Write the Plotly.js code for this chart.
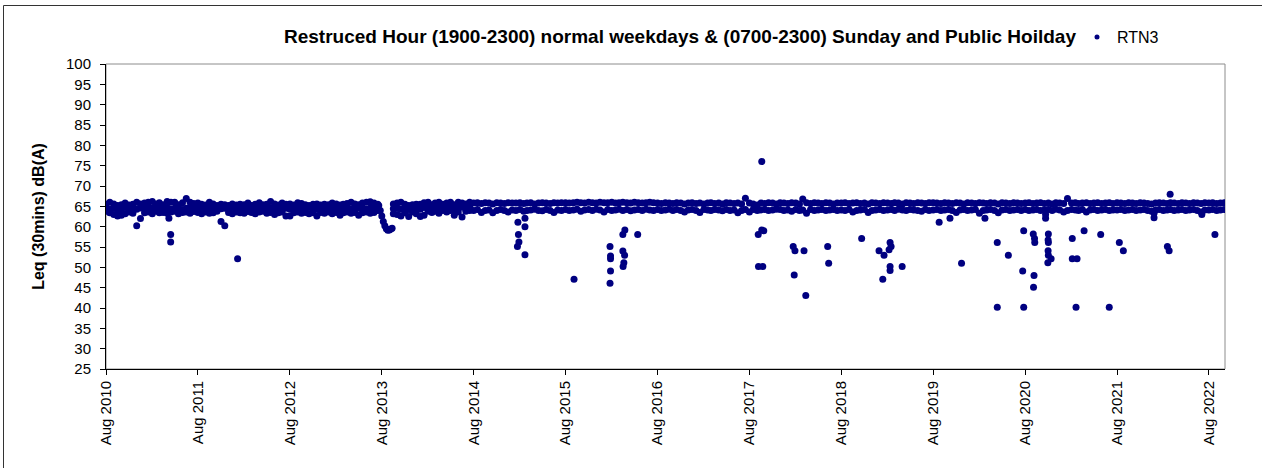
<!DOCTYPE html>
<html>
<head>
<meta charset="utf-8">
<script src="https://cdn.plot.ly/plotly-3.0.1.min.js"></script>
<style>
  html, body { margin: 0; padding: 0; background: #fff; }
  #chart { width: 1262px; height: 468px; }
</style>
</head>
<body>
<div id="chart"></div>
<script>
// ---------------- DATA ----------------
const seriesName = 'RTN3';
const chartTitle = 'Restruced Hour (1900-2300) normal weekdays & (0700-2300) Sunday and Public Hoilday';
const yTitle = 'Leq (30mins) dB(A)';

// Main band of readings, sampled on the 1st and 16th of each month from Aug 2010
// (upper, middle and lower edge of the dense cloud of points)
const bandStart = '2010-08';
const bandHi = [
  // Aug 2010 - Jul 2011
  65.5, 66, 65.6, 65.2, 65.4, 65.8, 65.3, 65.5, 66, 65.6, 65.8, 66, 66.2, 65.6, 65.9, 65.4, 66.2, 66, 66, 65.4, 65.9, 66.9, 66, 65.7,
  // Aug 2011 - Jul 2012
  65.8, 65.5, 65.3, 66, 65.6, 65.2, 65.5, 65.4, 65.2, 65.6, 65.3, 65.5, 65.4, 65.8, 65.2, 65.5, 65.9, 65.4, 65.5, 66.2, 65.6, 65.3, 65.8, 65.5,
  // Aug 2012 - Jul 2013
  65.6, 65.3, 65.9, 65.7, 65.4, 65.2, 65.5, 65.6, 65.3, 65.5, 65.4, 65.8, 65.6, 65.3, 65.5, 65.7, 66, 65.6, 65.4, 65.8, 66, 66.1, 65.8, 65.5,
  // Aug 2013 - Jul 2014
  null, null, null, 65.6, 65.8, 66, 65.5, 65.2, 65.4, 65.5, 65.5, 65.9, 66, 65.4, 65.8, 66, 65.5, 65.8, 66, 65.4, 66, 65.8, 65.6, 66,
  // Aug 2014 - Jul 2015
  65.8, 65.9, 65.7, 65.9, 65.8, 65.6, 65.9, 65.8, 65.7, 65.9, 65.8, 65.8, 65.9, 65.7, 65.8, 65.9, 65.6, 65.8, 65.9, 65.8, 65.7, 65.9, 65.8, 65.9,
  // Aug 2015 - Jul 2016
  65.9, 65.8, 65.9, 66, 65.9, 65.8, 66, 65.9, 65.8, 66, 65.9, 65.9, 66, 65.8, 65.9, 66, 65.9, 65.8, 66, 65.9, 65.8, 65.9, 66, 65.9,
  // Aug 2016 - Jul 2017
  65.8, 65.7, 65.9, 65.8, 65.7, 65.9, 65.8, 65.6, 65.8, 65.9, 65.7, 65.8, 65.6, 65.8, 65.9, 65.7, 65.8, 65.6, 65.9, 65.8, 65.7, 65.8, 65.6, 67,
  // Aug 2017 - Jul 2018
  65.8, 65.6, 65.3, 65.8, 65.7, 65.9, 65.8, 65.6, 65.9, 65.8, 65.7, 65.9, 65.8, 65.6, 66.8, 65.9, 65.7, 65.9, 65.8, 65.7, 65.9, 65.8, 65.6, 65.8,
  // Aug 2018 - Jul 2019
  65.8, 65.9, 65.7, 65.8, 65.9, 65.7, 65.8, 65.6, 65.9, 65.8, 65.7, 65.9, 65.8, 65.7, 65.9, 65.8, 65.6, 65.9, 65.8, 65.7, 65.9, 65.8, 65.7, 65.9,
  // Aug 2019 - Jul 2020
  65.9, 65.8, 65.7, 65.9, 65.8, 65.7, 65.9, 65.8, 65.6, 65.9, 65.8, 65.7, 65.9, 65.8, 65.7, 65.9, 65.8, 65.6, 65.9, 65.8, 65.7, 65.9, 65.8, 65.7,
  // Aug 2020 - Jul 2021
  65.8, 65.9, 65.7, 65.8, 65.9, 65.7, 65.8, 65.6, 65.9, 65.8, 65.7, 66.9, 65.8, 65.9, 65.7, 65.8, 65.9, 65.7, 65.8, 65.9, 65.7, 65.8, 65.9, 65.7,
  // Aug 2021 - Jul 2022
  65.9, 65.8, 65.7, 65.9, 65.8, 65.7, 65.9, 65.8, 65.7, 65.6, 65.8, 65.9, 65.8, 65.7, 65.9, 65.8, 65.7, 65.9, 65.8, 65.7, 65.9, 65.8, 65.7, 65.9,
  // Aug 2022 - Oct 2022
  65.8, 65.9, 65.7, 65.8, 65.9
];
const bandMid = [
  // Aug 2010 - Jul 2011
  64.6, 64.3, 64.5, 64.1, 64.4, 64.7, 64.2, 64.5, 64.3, 64.6, 64.4, 64.8, 64.5, 64.2, 64.6, 64.4, 64.7, 64.3, 64.5, 64.6, 64.2, 64.5, 64.7, 64.4,
  // Aug 2011 - Jul 2012
  64.4, 64.7, 64.3, 64.5, 64.2, 64.6, 64.4, 64.5, 64.3, 64.7, 64.4, 64.2, 64.6, 64.5, 64.3, 64.7, 64.4, 64.2, 64.6, 64.5, 64.3, 64.4, 64.7, 64.5,
  // Aug 2012 - Jul 2013
  64.3, 64.6, 64.4, 64.5, 64.2, 64.7, 64.4, 64.3, 64.6, 64.5, 64.2, 64.4, 64.7, 64.3, 64.5, 64.6, 64.4, 64.2, 64.5, 64.7, 64.3, 64.6, 64.4, 64.5,
  // Aug 2013 - Jul 2014
  null, null, null, 64.4, 64.6, 64.3, 64.5, 64.2, 64.6, 64.4, 64.3, 64.7, 64.5, 64.4, 64.8, 64.6, 64.5, 64.8, 64.7, 64.4, 64.9, 64.8, 64.6, 64.9
];
const bandLo = [
  // Aug 2010 - Jul 2011
  63.8, 63.4, 63, 62.6, 62.8, 63.2, 63.6, 63.3, 60.2, 62, 63.4, 63.6, 63.2, 63.8, 63.4, 63.5, 63.3, 63.6, 63.8, 63.2, 63.5, 63.6, 63.3, 63.7,
  // Aug 2011 - Jul 2012
  63.5, 63.2, 63.6, 63.3, 63.4, 63.8, 61.3, 60.2, 63.5, 63.2, 63.6, 63.4, 63.3, 63.7, 63.5, 63.2, 63.6, 63.8, 63.3, 63.5, 63, 63.4, 63.6, 62.6,
  // Aug 2012 - Jul 2013
  62.6, 63.4, 63.6, 63.3, 63.5, 63.2, 63.4, 62.6, 63.5, 63.3, 63.6, 63.2, 63.5, 62.8, 63.4, 63.6, 63.3, 63.5, 62.8, 63.4, 63.6, 63.3, 63.5, 64,
  // Aug 2013 - Jul 2014
  null, null, null, 63.2, 63, 62.6, 63.4, 62.5, 63.6, 63.2, 62.5, 62.8, 63.8, 63.5, 63.8, 63.3, 64, 63.6, 64, 62.8, 63.6, 62.4, 63.8, 64,
  // Aug 2014 - Jul 2015
  64, 64.2, 63.5, 64, 64.1, 63.4, 64, 64.2, 64, 63.6, 64.1, 64, 64.2, 63.8, 64, 64.1, 64.3, 64, 63.9, 64.2, 64, 63.5, 64.1, 64,
  // Aug 2015 - Jul 2016
  64.2, 64, 64.1, 64.3, 63.8, 64.1, 64.2, 64, 64.3, 64.1, 63.6, 64.2, 64, 64.1, 64.3, 64, 64.2, 63.9, 64.1, 64.2, 64, 64.3, 64.1, 64,
  // Aug 2016 - Jul 2017
  64.2, 64, 64.1, 64.3, 64, 64.2, 64, 63.6, 64.1, 64.2, 64, 63.5, 64.2, 64.1, 64, 64.2, 64.1, 63.9, 64.2, 64, 64.1, 63.4, 64, 64.2,
  // Aug 2017 - Jul 2018
  63.6, 64.2, 64, 64.1, 64.2, 64, 64.1, 64.3, 64.2, 64, 64.1, 63.8, 64.2, 64, 64.1, 63.3, 64.2, 64, 64.1, 64.2, 64, 64.1, 64.2, 64,
  // Aug 2018 - Jul 2019
  64.1, 64, 64.2, 63.6, 64, 64.1, 64.2, 63.5, 64, 64.1, 64.2, 64, 64.1, 64.2, 64, 64.3, 64.1, 64, 64.2, 64.1, 64, 63.8, 64.2, 64,
  // Aug 2019 - Jul 2020
  64.1, 64.2, 64, 64.1, 64.2, 64, 63.5, 64.1, 64.2, 64, 64.1, 64.2, 63.3, 64, 64.1, 64.2, 64, 63.4, 64.1, 64.2, 64, 64.1, 64.2, 64,
  // Aug 2020 - Jul 2021
  64.2, 64, 64.1, 64.2, 64, 64.1, 64.2, 64, 64.3, 64.1, 63.6, 64, 64.2, 64.1, 64, 64.2, 63.6, 64.1, 64.2, 64, 64.1, 64.2, 64, 64.1,
  // Aug 2021 - Jul 2022
  64.1, 64.2, 64, 64.1, 64.2, 64, 64.1, 64.2, 64, 63.8, 64.1, 64.2, 64, 64.1, 64.2, 64, 64.1, 64.2, 64, 64.1, 64.2, 64, 63.6, 64.1,
  // Aug 2022 - Oct 2022
  64.1, 64.2, 64, 64.1, 64.2
];

// Drop in levels around Aug 2013
const dipDates = ['2013-07-20','2013-07-26','2013-08-01','2013-08-07','2013-08-13','2013-08-19','2013-08-25','2013-08-31','2013-09-06','2013-09-11'];
const dipValues = [65.2, 64, 62.6, 61.3, 60.2, 59.5, 59.1, 59.2, 59.4, 59.6];

// Isolated readings away from the main band
const outlierDates = [
  '2011-04-08','2011-04-15','2011-04-15','2012-01-06',
  '2015-01-22','2015-01-24','2015-01-26','2015-01-28','2015-02-21','2015-02-21','2015-02-21','2015-09-04',
  '2016-01-25','2016-01-27','2016-01-27','2016-01-27','2016-01-25',
  '2016-03-16','2016-03-24','2016-03-16','2016-03-23','2016-03-20','2016-03-17','2016-05-14',
  '2017-09-05','2017-09-19','2017-09-27','2017-09-06','2017-09-23','2017-09-19',
  '2018-01-22','2018-01-29','2018-03-06','2018-01-26','2018-03-13','2018-06-08','2018-06-12','2018-10-21',
  '2018-12-29','2019-01-18','2019-02-11','2019-02-15','2019-02-07','2019-02-11','2019-02-11','2019-01-13','2019-03-31',
  '2019-08-25','2019-10-07','2019-11-22','2020-02-23','2020-04-12','2020-04-12','2020-05-26',
  '2020-07-22','2020-07-26','2020-07-26','2020-09-02','2020-09-07','2020-09-08','2020-09-05','2020-09-03',
  '2020-10-21','2020-10-21','2020-11-01','2020-10-31','2020-11-01','2020-10-31','2020-11-01','2020-11-12','2020-10-30',
  '2021-02-04','2021-02-04','2021-02-23','2021-02-19','2021-03-23','2021-05-28','2021-07-01','2021-08-10','2021-08-26',
  '2021-12-26','2021-12-26','2022-02-17','2022-02-24','2022-02-28','2022-07-04','2022-08-25'
];
const outlierValues = [
  62.1, 58.1, 56.2, 52.1,
  55.1, 61.1, 58.1, 56.2, 62.1, 60, 53.1, 47.1,
  55.1, 52.8, 52.1, 49.1, 46.1,
  58.1, 59.2, 54, 53, 51.1, 50.2, 58.1,
  58.1, 59.2, 59, 50.2, 50.2, 76,
  55.1, 54.1, 54.1, 48.1, 43.1, 55.1, 51, 57.1,
  54.1, 53, 56.1, 55.1, 54.3, 50.2, 49.2, 47.1, 50.2,
  61.1, 62.1, 51, 62.1, 56.1, 40.2, 53,
  49.1, 59, 40.2, 58.2, 57.1, 56.1, 48, 45.1,
  63, 62.1, 58.2, 56.7, 56.1, 54.1, 53, 52.1, 51.1,
  57.1, 52.1, 52.1, 40.2, 59, 58.1, 40.2, 56.1, 54.1,
  62.2, 63.3, 55.1, 54.1, 68, 63, 58.1
];

const xRange = ['2010-08-01', '2022-10-04'];
const yRange = [25, 100];

// ---------------- BUILD ----------------
function bandDate(i) {
  const y0 = parseInt(bandStart.slice(0, 4), 10);
  const m0 = parseInt(bandStart.slice(5, 7), 10) - 1;
  const mi = m0 + Math.floor(i / 2);
  const yy = y0 + Math.floor(mi / 12);
  const mm = (mi % 12) + 1;
  const dd = (i % 2 === 0) ? '01' : '16';
  return yy + '-' + String(mm).padStart(2, '0') + '-' + dd;
}

const xs = [], ys = [];
function addBand(arr) {
  arr.forEach((v, i) => { if (v !== null) { xs.push(bandDate(i)); ys.push(v); } });
}
addBand(bandHi);
addBand(bandMid);
addBand(bandLo);
dipDates.forEach((d, i) => { xs.push(d); ys.push(dipValues[i]); });
outlierDates.forEach((d, i) => { xs.push(d); ys.push(outlierValues[i]); });

const navy = '#000080';
const trace = {
  type: 'scatter',
  mode: 'markers',
  name: seriesName,
  legendgroup: 'rtn3',
  showlegend: false,
  x: xs,
  y: ys,
  marker: { color: navy, size: 7, line: { width: 0 } },
  hoverinfo: 'x+y'
};
// legend entry only (smaller symbol, as in the original legend)
const legendTrace = {
  type: 'scatter',
  mode: 'markers',
  name: seriesName,
  legendgroup: 'rtn3',
  showlegend: true,
  x: [null],
  y: [null],
  marker: { color: navy, size: 5, line: { width: 0 } },
  hoverinfo: 'skip'
};

// plot area pixels: left 106, right 1225, top 64, bottom 369
const L = 106, R = 1225, T = 64, B = 369, W = 1262, H = 468;
const px2x = p => (p - L) / (R - L);
const px2y = p => (B - p) / (B - T);

const layout = {
  width: W, height: H,
  paper_bgcolor: '#ffffff',
  plot_bgcolor: '#ffffff',
  margin: { l: L, r: W - R, t: T, b: H - B, pad: 0 },
  font: { family: 'Liberation Sans, Arial, sans-serif', size: 15, color: '#000000' },
  title: {
    text: '<b>' + chartTitle.replace('&', '&amp;') + '</b>',
    font: { size: 19, color: '#000000' },
    xref: 'paper', x: px2x(680), xanchor: 'center',
    yref: 'container', y: 1 - 36 / H, yanchor: 'middle'
  },
  showlegend: true,
  legend: {
    x: px2x(1077), xanchor: 'left',
    y: px2y(37), yanchor: 'middle',
    bgcolor: 'rgba(0,0,0,0)',
    font: { size: 16 }
  },
  xaxis: {
    type: 'date',
    range: xRange,
    tick0: '2010-08-01',
    dtick: 'M12',
    tickformat: '%b %Y',
    tickangle: -90,
    ticks: 'outside', ticklen: 5, tickcolor: '#000', tickwidth: 1,
    showline: true, linecolor: '#000', linewidth: 1,
    showgrid: false, zeroline: false,
    tickfont: { size: 15 },
    automargin: false
  },
  yaxis: {
    range: yRange,
    tick0: 25, dtick: 5,
    ticks: 'outside', ticklen: 5, tickcolor: '#000', tickwidth: 1,
    showline: true, linecolor: '#000', linewidth: 1,
    showgrid: false, zeroline: false,
    tickfont: { size: 15 },
    ticklabelstandoff: 6,
    automargin: false,
    title: { text: '<b>' + yTitle + '</b>', font: { size: 16 }, standoff: 17 }
  },
  shapes: [
    { type: 'rect', xref: 'paper', yref: 'paper', x0: 0, x1: 1, y0: 0, y1: 1,
      line: { color: '#8c8c8c', width: 1 }, layer: 'below' },
    { type: 'rect', xref: 'paper', yref: 'paper',
      x0: px2x(3.5), x1: px2x(1266), y0: px2y(472), y1: px2y(5.5),
      line: { color: '#333333', width: 1 }, layer: 'below' }
  ]
};

Plotly.newPlot('chart', [trace, legendTrace], layout, { displayModeBar: false, staticPlot: true });
</script>
</body>
</html>
